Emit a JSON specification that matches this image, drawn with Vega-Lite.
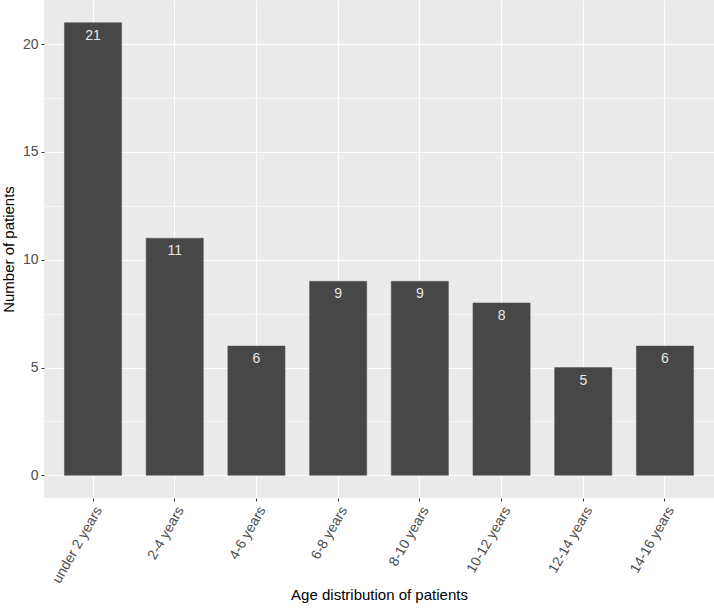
{
  "$schema": "https://vega.github.io/schema/vega-lite/v6.json",
  "autosize": "none",
  "padding": {"left": 44, "top": 0, "right": 0, "bottom": 111},
  "width": 670,
  "height": 498,
  "background": "white",
  "config": {
    "view": {"fill": "#EBEBEB", "stroke": null},
    "font": "Liberation Sans",
    "axis": {
      "gridColor": "white",
      "gridWidth": 1.1,
      "domain": false,
      "tickColor": "#333333",
      "tickSize": 3,
      "labelColor": "#4D4D4D",
      "labelFontSize": 14,
      "titleFontSize": 15,
      "titleFontWeight": "normal",
      "titleColor": "black"
    }
  },
  "data": {
    "values": [
      {"age": "under 2 years", "n": 21},
      {"age": "2-4 years", "n": 11},
      {"age": "4-6 years", "n": 6},
      {"age": "6-8 years", "n": 9},
      {"age": "8-10 years", "n": 9},
      {"age": "10-12 years", "n": 8},
      {"age": "12-14 years", "n": 5},
      {"age": "14-16 years", "n": 6}
    ]
  },
  "encoding": {
    "x": {
      "field": "age",
      "type": "nominal",
      "sort": null,
      "scale": {"paddingInner": 0.3, "paddingOuter": 0.25},
      "axis": {
        "title": "Age distribution of patients",
        "labelAngle": -60,
        "labelAlign": "right",
        "labelBaseline": "top",
        "labelPadding": 3,
        "titlePadding": 2,
        "grid": true
      }
    }
  },
  "layer": [
    {
      "mark": {"type": "bar", "fill": "#474747", "stroke": "#555555", "strokeWidth": 0.5},
      "encoding": {
        "y": {
          "field": "n",
          "type": "quantitative",
          "scale": {"domain": [-1.05, 22.05], "nice": false, "zero": false},
          "axis": {
            "orient": "right",
            "values": [2.5, 7.5, 12.5, 17.5],
            "grid": true,
            "gridWidth": 0.6,
            "labels": false,
            "ticks": false,
            "title": null
          }
        }
      }
    },
    {
      "mark": {"type": "text", "baseline": "middle", "dy": 13, "fontSize": 14, "color": "#E6E6E6"},
      "encoding": {
        "y": {
          "field": "n",
          "type": "quantitative",
          "axis": {
            "orient": "left",
            "values": [0, 5, 10, 15, 20],
            "grid": true,
            "title": "Number of patients",
            "labelPadding": 3,
            "titlePadding": 6
          }
        },
        "text": {"field": "n", "type": "quantitative"}
      }
    }
  ],
  "resolve": {"axis": {"y": "independent"}}
}
